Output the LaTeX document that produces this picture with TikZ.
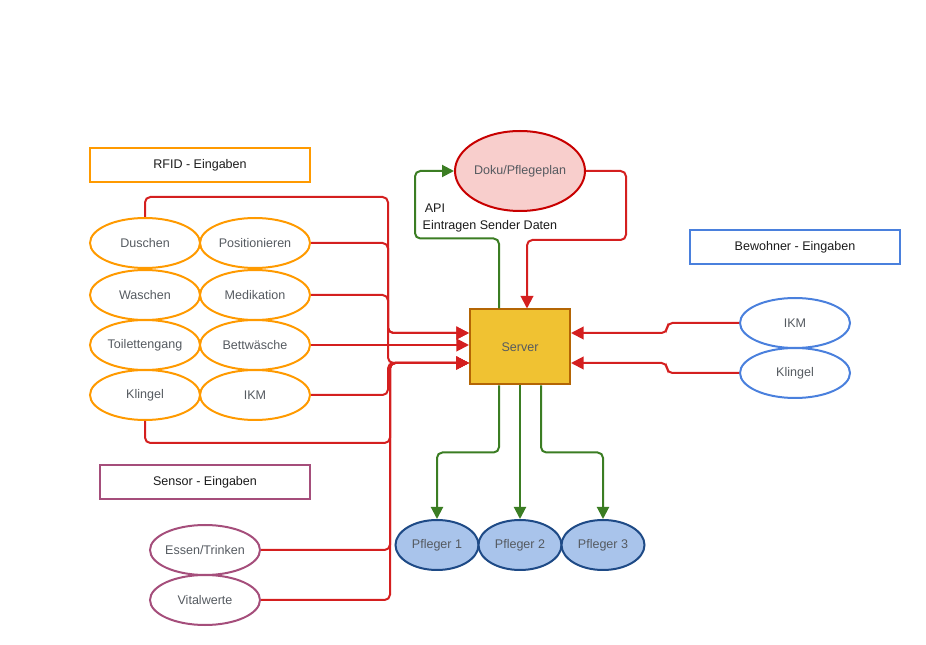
\documentclass[tikz,border=0pt]{standalone}
\usepackage{fontspec}
\setmainfont{Liberation Sans}
\usetikzlibrary{shapes.geometric,arrows.meta,calc}

\definecolor{rfidcol}{HTML}{FF9A00}
\definecolor{bewcol}{HTML}{4A80DD}
\definecolor{sensorcol}{HTML}{A54E7B}
\definecolor{linered}{HTML}{D41F1F}
\definecolor{linegreen}{HTML}{3B7D23}
\definecolor{srvfill}{HTML}{F0C232}
\definecolor{srvdraw}{HTML}{B46504}
\definecolor{dokufill}{HTML}{F8CECC}
\definecolor{dokudraw}{HTML}{C80000}
\definecolor{pflfill}{HTML}{A9C4EB}
\definecolor{pfldraw}{HTML}{1E4A86}
\definecolor{txtgray}{HTML}{555A60}
\definecolor{txtdark}{HTML}{1A1A1A}

\begin{document}
\begin{tikzpicture}[x=0.75pt, y=-0.75pt,
  every node/.style={font=\fontsize{9.4}{12.75}\selectfont},
  box/.style={draw, line width=1.5pt, minimum width=165pt, minimum height=25.5pt, text=txtdark, inner sep=0pt},
  oval/.style={ellipse, draw, line width=1.5pt, minimum width=82.5pt, minimum height=37.5pt, inner ysep=0pt, inner xsep=-8pt, text=txtgray},
  rfid/.style={oval, draw=rfidcol},
  bew/.style={oval, draw=bewcol},
  sensor/.style={oval, draw=sensorcol},
  pfl/.style={oval, draw=pfldraw, fill=pflfill, minimum width=62.25pt},
  redarr/.style={draw=linered, line width=1.5pt, rounded corners=4pt, -{Triangle[length=9.5pt,width=9.5pt]}},
  greenarr/.style={draw=linegreen, line width=1.5pt, rounded corners=4pt, -{Triangle[length=9pt,width=9pt]}}]
  \useasboundingbox (0,0) rectangle (926,645);

  % group headers
  \node[box, draw=rfidcol] (rfidhead) at (200,165) {RFID - Eingaben};
  \node[box, draw=bewcol, minimum width=157.5pt] (bewhead) at (795,247) {Bewohner - Eingaben};
  \node[box, draw=sensorcol, minimum width=157.5pt] (senshead) at (205,482) {Sensor - Eingaben};

  % RFID inputs
  \foreach \nm/\x/\y/\lbl in {dusch/145/243/Duschen, posit/255/243/Positionieren,
      wasch/145/295/Waschen, medik/255/295/Medikation,
      toil/145/345/Toilettengang, bettw/255/345/Bettwäsche,
      klin/145/395/Klingel, ikm/255/395/IKM} {
    \node[rfid] (\nm) at (\x,\y) {\lbl};
  }

  % Bewohner inputs
  \node[bew] (bikm) at (795,323) {IKM};
  \node[bew] (bklin) at (795,373) {Klingel};

  % Sensor inputs
  \node[sensor] (essen) at (205,550) {Essen/Trinken};
  \node[sensor] (vital) at (205,600) {Vitalwerte};

  % server and documentation
  \node[draw=srvdraw, fill=srvfill, line width=1.5pt, minimum width=75pt, minimum height=56.25pt, text=txtgray] (server) at (520,347) {Server};
  \node[oval, draw=dokudraw, fill=dokufill, minimum width=97.5pt, minimum height=60pt] (doku) at (520,171) {Doku/Pflegeplan};

  % carers
  \foreach \nm/\x/\i in {pf1/437/1, pf2/520/2, pf3/603/3} {
    \node[pfl] (\nm) at (\x,545) {Pfleger \i};
  }

  % entry points on the server
  \coordinate (inTop) at ($(server.west)+(0,-14)$);
  \coordinate (inMid) at ($(server.west)+(0,-2)$);
  \coordinate (inBot) at ($(server.west)+(0,16)$);
  \coordinate (inRTop) at ($(server.east)+(0,-14)$);
  \coordinate (inRBot) at ($(server.east)+(0,16)$);
  \coordinate (busL) at (388,0);
  \coordinate (busR) at (390,0);

  % RFID -> server
  \draw[redarr] (dusch.north) -- ++(0,-20) -| (busL |- inTop) -- (inTop);
  \draw[redarr] (posit.east) -| (busL |- inTop) -- (inTop);
  \draw[redarr] (medik.east) -| (busL |- inBot) -- (inBot);
  \draw[redarr] (bettw.east |- inMid) -- (inMid);
  \draw[redarr] (ikm.east) -| (busL |- inBot) -- (inBot);
  \draw[redarr] (klin.south) -- ++(0,22) -| (busR |- inBot) -- (inBot);

  % sensor -> server
  \draw[redarr] (essen.east) -| (busR |- inBot) -- (inBot);
  \draw[redarr] (vital.east) -| (busR |- inBot) -- (inBot);

  % Bewohner -> server
  \draw[redarr] (bikm.west) -- ++(-72,0) |- (inRTop);
  \draw[redarr] (bklin.west) -- ++(-72,0) |- (inRBot);

  % server <-> Doku
  \draw[redarr] (doku.east) -- ++(40,0) -- ++(0,69) -| ($(server.north)+(7,0)$);
  \draw[greenarr] ($(server.north)+(-21,0)$) -- ++(0,-70) -- ++(-84,0) |- (doku.west);
  \node[anchor=west, align=left, text=txtdark] (apilbl) at (418,218) {\,API\\Eintragen Sender Daten};

  % server -> carers
  \draw[greenarr] ($(server.south)+(-21,0)$) -- ++(0,67) -| (pf1.north);
  \draw[greenarr] (server.south) -- (pf2.north);
  \draw[greenarr] ($(server.south)+(21,0)$) -- ++(0,67) -| (pf3.north);
\end{tikzpicture}
\end{document}
